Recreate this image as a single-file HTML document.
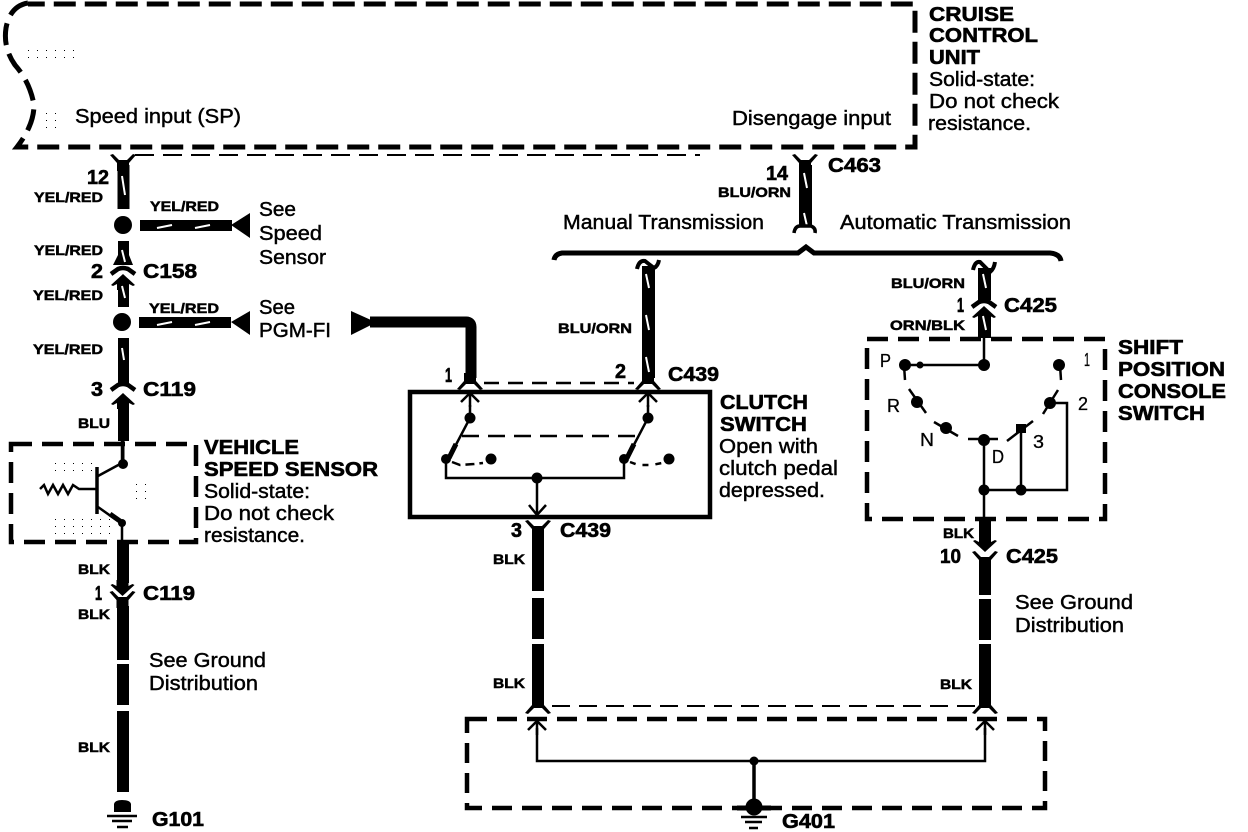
<!DOCTYPE html>
<html><head><meta charset="utf-8"><style>
html,body{margin:0;padding:0;background:#fff}
svg{display:block}
text{font-family:"Liberation Sans",sans-serif;fill:#000}
.r{font-size:20px;stroke:#000;stroke-width:.45}
.b{font-size:20px;font-weight:bold;stroke:#000;stroke-width:.6}
.s{font-size:14px;font-weight:bold;stroke:#000;stroke-width:.5}
.t{font-size:18px;stroke:#000;stroke-width:.3}
</style></head><body>
<svg width="1248" height="832" viewBox="0 0 1248 832" xmlns="http://www.w3.org/2000/svg">
<defs>
<path id="arch" d="M-12,6 L-5,1 Q0,-1 5,1 L12,6" fill="none" stroke="#000" stroke-width="4.500"/>
<path id="yf" d="M-12,-7 L-5,-1 Q0,1 5,-1 L12,-7" fill="none" stroke="#000" stroke-width="4.500"/>
<path id="au" d="M-12,7 L-10,8 L-6,6 L-6,12 L6,12 L6,6 L10,8 L12,7 L0,-4 Z" fill="#000"/>
<path id="ad" d="M-12,-7 L-10,-8 L-6,-6 L-6,-12 L6,-12 L6,-6 L10,-8 L12,-7 L0,4 Z" fill="#000"/>
<path id="sp" d="M-13,8 L-10,9 L-4,3 L4,3 L10,9 L13,8 L6,0 L6,-8 L-6,-8 L-6,0 Z" fill="#000"/>
<path id="ya" d="M-13,-8 L-10,-9 L-4,-3 L4,-3 L10,-9 L13,-8 L6,0 L6,8 L-6,8 L-6,0 Z" fill="#000"/>
<path id="ar" d="M-9,9 L0,0 L9,9 M0,0 L0,14" fill="none" stroke="#000" stroke-width="2.500"/>
<pattern id="dots" width="9" height="7" patternUnits="userSpaceOnUse"><rect x="1" y="1" width="1" height="1" fill="#000"/></pattern>
</defs>

<!-- stipple -->
<rect x="48" y="462" width="50" height="10" fill="url(#dots)"/>
<rect x="50" y="518" width="60" height="20" fill="url(#dots)"/>
<rect x="128" y="480" width="22" height="25" fill="url(#dots)"/>
<rect x="25" y="48" width="50" height="12" fill="url(#dots)"/>
<rect x="44" y="110" width="14" height="24" fill="url(#dots)"/>

<!-- cruise box -->
<path d="M28,3 Q10,6 6,28 Q3,48 15,65 Q30,82 34,105 Q34,125 17,147 L915,147 L915,4 L28,4" fill="none" stroke="#000" stroke-width="5" stroke-dasharray="22 9"/>
<path d="M135,155 L700,155" fill="none" stroke="#000" stroke-width="2" stroke-dasharray="19 9"/>

<!-- left wire -->
<use href="#ya" x="123" y="163"/>
<rect x="117.500" y="165" width="12" height="44"/>
<path d="M122,176 L125,195" stroke="#fff" stroke-width="2"/>
<circle cx="123" cy="225" r="9"/>
<rect x="118" y="241" width="11" height="22"/>
<path d="M118,255 L113,265 L133,265 L129,255Z"/>
<path d="M122,250 L125,262" stroke="#fff" stroke-width="2"/>
<use href="#arch" x="123" y="268"/>
<use href="#au" x="123" y="278"/>
<rect x="118" y="285" width="11" height="22"/>
<path d="M122,286 L125,298" stroke="#fff" stroke-width="2"/>
<circle cx="122" cy="322" r="9"/>
<rect x="118" y="338" width="11" height="45"/>
<path d="M122,348 L124,360" stroke="#fff" stroke-width="2"/>
<use href="#arch" x="123" y="384"/>
<use href="#au" x="123" y="397"/>
<rect x="118" y="405" width="11" height="36"/>
<rect x="121.500" y="441" width="3" height="22"/>

<!-- branch wires -->
<rect x="140" y="220" width="92" height="11"/>
<path d="M157,228 L172,225 M195,228 L210,225" stroke="#fff" stroke-width="2"/>
<path d="M231,225 L250,213 L250,238Z"/>
<rect x="139" y="317" width="92" height="11"/>
<path d="M157,325 L172,322 M195,325 L210,322" stroke="#fff" stroke-width="2"/>
<path d="M231,322 L250,311 L250,335Z"/>
<path d="M351,311 L371,320 L371,325 L351,335Z"/>
<path d="M370,322 L466,322 Q471,322 471,327 L471,378" fill="none" stroke="#000" stroke-width="11"/>

<!-- vehicle speed sensor -->
<path d="M11,444 L196,444 L196,542 L11,542 Z" fill="none" stroke="#000" stroke-width="4.500" stroke-dasharray="21 10"/>
<path d="M97,467 L97,514" stroke="#000" stroke-width="3.500"/>
<path d="M98,476 L122,463 M122,441 L122,463 M98,507 L122,524 M122,524 L122,545" fill="none" stroke="#000" stroke-width="2.500"/>
<path d="M110,514 L120,521" stroke="#000" stroke-width="5"/>
<circle cx="123" cy="464" r="5"/><circle cx="122" cy="523" r="4"/>
<path d="M40,489 L44,485 L48,494 L53,485 L58,494 L63,485 L68,494 L73,485 L79,489 L96,489" fill="none" stroke="#000" stroke-width="2.500"/>
<rect x="117" y="543" width="12" height="40"/>
<use href="#ad" x="122.500" y="592"/>
<use href="#ya" x="122.500" y="600"/>
<rect x="117" y="606" width="12" height="54"/>
<rect x="117" y="664" width="12" height="41"/>
<rect x="117" y="711" width="12" height="81"/>
<path d="M114,812 L114,804 Q115,800 122,800 Q130,800 131,804 L131,812Z"/>
<path d="M107,816 L137,816 M112,821 L132,821 M117,827 L128,827" stroke="#000" stroke-width="2.500"/>

<!-- top right wire C463 + brace -->
<use href="#ya" x="805" y="163"/>
<rect x="799" y="165" width="13" height="62"/>
<path d="M804,173 L807,188 M804,213 L807,226" stroke="#fff" stroke-width="2"/>
<path d="M794,233 Q795,226 800,226 L811,226 Q816,228 815,233" fill="none" stroke="#000" stroke-width="3.500"/>
<path d="M554,260 Q555,254 562,253 L798,253 L806,247 L814,253 L1050,253 Q1060,254 1061,261" fill="none" stroke="#000" stroke-width="5"/>

<!-- manual wire -->
<path d="M637,269 Q639,260 645,261 Q650,265 654,268 Q658,266 659,260" fill="none" stroke="#000" stroke-width="4"/>
<rect x="642" y="266" width="13" height="112"/>
<path d="M646,274 L649,288 M646,315 L649,330 M646,357 L649,372" stroke="#fff" stroke-width="2"/>
<use href="#sp" x="648" y="381"/>
<use href="#sp" x="470" y="381"/>
<path d="M484,383 L634,383" stroke="#000" stroke-width="2.500" stroke-dasharray="15 9"/>

<!-- clutch switch -->
<rect x="410" y="392" width="300" height="125" fill="none" stroke="#000" stroke-width="4.500"/>
<use href="#ar" x="470" y="393"/><use href="#ar" x="648" y="393"/>
<path d="M470,405 L470,418 L449,458 M648,405 L648,418 L627,458" fill="none" stroke="#000" stroke-width="2.500"/>
<path d="M456,444 L449,458 M634,444 L627,458" stroke="#000" stroke-width="5"/>
<circle cx="470" cy="418" r="5.500"/><circle cx="648" cy="418" r="5.500"/>
<circle cx="446" cy="459" r="5"/><circle cx="624" cy="459" r="5"/>
<circle cx="491" cy="459" r="5.500"/><circle cx="669" cy="459" r="5.500"/>
<path d="M462,436 L636,436" stroke="#000" stroke-width="2.500" stroke-dasharray="17 9"/>
<path d="M452,462 L460,465 L474,464 L483,463" fill="none" stroke="#000" stroke-width="2.500" stroke-dasharray="9 5"/>
<path d="M630,462 L638,465 L652,465 L662,463" fill="none" stroke="#000" stroke-width="2.500" stroke-dasharray="6 7"/>
<path d="M446,459 L446,478 L624,478 L624,459" fill="none" stroke="#000" stroke-width="2.500"/>
<circle cx="537" cy="478" r="5.500"/>
<path d="M537,478 L537,514 M529,505 L537,515 L546,505" fill="none" stroke="#000" stroke-width="2.500"/>

<!-- BLK wire 1 -->
<use href="#ya" x="538" y="529"/>
<rect x="532" y="533" width="12" height="58"/>
<rect x="532" y="598" width="12" height="41"/>
<rect x="532" y="644" width="12" height="56"/>
<use href="#sp" x="538" y="705"/>
<!-- BLK wire 2 -->
<rect x="979" y="519" width="12" height="22"/>
<use href="#ad" x="985" y="548"/>
<use href="#ya" x="985" y="560"/>
<rect x="979" y="564" width="12" height="31"/>
<rect x="979" y="599" width="12" height="41"/>
<rect x="979" y="644" width="12" height="57"/>
<use href="#sp" x="985" y="705"/>
<path d="M552,706 L975,706" stroke="#000" stroke-width="2" stroke-dasharray="18 9"/>

<!-- G401 box -->
<path d="M467,719 L1045,719 L1045,808 L467,808 Z" fill="none" stroke="#000" stroke-width="4.500" stroke-dasharray="20 10"/>
<use href="#ar" x="537" y="721"/><use href="#ar" x="985" y="721"/>
<path d="M537,728 L537,761 L985,761 L985,728" fill="none" stroke="#000" stroke-width="2.500"/>
<circle cx="754" cy="761" r="4.500"/>
<path d="M754,761 L754,800" stroke="#000" stroke-width="3.500"/>
<circle cx="754" cy="807" r="8.500"/>
<path d="M737,808 L771,808" stroke="#000" stroke-width="5"/>
<path d="M741,817 L767,817 M745,822 L762,822 M749,828 L758,828" stroke="#000" stroke-width="2.500"/>

<!-- auto wire -->
<path d="M973,270 Q975,261 980,262 L990,272 Q994,269 995,262" fill="none" stroke="#000" stroke-width="4"/>
<rect x="978" y="268" width="13" height="32"/>
<path d="M983,274 L986,288" stroke="#fff" stroke-width="2"/>
<use href="#arch" x="984" y="301"/>
<use href="#au" x="984" y="310"/>
<rect x="978" y="316" width="13" height="22"/>
<path d="M983,316 L986,330" stroke="#fff" stroke-width="2"/>

<!-- shift box -->
<path d="M867,339 L1105,339 L1105,519 L867,519 Z" fill="none" stroke="#000" stroke-width="4.500" stroke-dasharray="21 10"/>
<path d="M984,338 L984,365 M905,365 L984,365 M904,365 L905,380 M1060,365 L1061,380" fill="none" stroke="#000" stroke-width="2.500"/>
<circle cx="984" cy="365" r="6"/><circle cx="905" cy="365" r="6"/><circle cx="920" cy="365" r="3.500"/><circle cx="1059" cy="365" r="6"/>
<path d="M909,389 L926,413 M934,422 L958,436 M968,439 L998,439 M1007,441 L1033,421 M1043,414 L1058,390" stroke="#000" stroke-width="2.500"/>
<circle cx="917" cy="402" r="6"/><circle cx="946" cy="428" r="6"/><circle cx="984" cy="440" r="6"/><circle cx="1050" cy="403" r="6"/>
<rect x="1016" y="424" width="10" height="9"/>
<path d="M1055,403 L1067,403 L1067,490 L984,490 M1021,430 L1021,490 M984,440 L984,520" fill="none" stroke="#000" stroke-width="2.500"/>
<circle cx="984" cy="490" r="5.500"/><circle cx="1021" cy="490" r="5.500"/>

<!-- text -->
<text class="r" x="75" y="123" textLength="166" lengthAdjust="spacingAndGlyphs">Speed input (SP)</text>
<text class="r" x="732" y="125" textLength="159" lengthAdjust="spacingAndGlyphs">Disengage input</text>
<text class="b" x="929" y="21" textLength="85" lengthAdjust="spacingAndGlyphs">CRUISE</text>
<text class="b" x="929" y="42" textLength="109" lengthAdjust="spacingAndGlyphs">CONTROL</text>
<text class="b" x="929" y="64" textLength="51" lengthAdjust="spacingAndGlyphs">UNIT</text>
<text class="r" x="929" y="86" textLength="106" lengthAdjust="spacingAndGlyphs">Solid-state:</text>
<text class="r" x="929" y="108" textLength="130" lengthAdjust="spacingAndGlyphs">Do not check</text>
<text class="r" x="928" y="130" textLength="103" lengthAdjust="spacingAndGlyphs">resistance.</text>

<text class="b" x="87" y="184" textLength="22" lengthAdjust="spacingAndGlyphs">12</text>
<text class="s" x="34" y="202" textLength="69" lengthAdjust="spacingAndGlyphs">YEL/RED</text>
<text class="s" x="150" y="211" textLength="69" lengthAdjust="spacingAndGlyphs">YEL/RED</text>
<text class="r" x="259" y="216" textLength="37" lengthAdjust="spacingAndGlyphs">See</text>
<text class="r" x="259" y="240" textLength="63" lengthAdjust="spacingAndGlyphs">Speed</text>
<text class="r" x="259" y="264" textLength="67" lengthAdjust="spacingAndGlyphs">Sensor</text>
<text class="s" x="34" y="255" textLength="69" lengthAdjust="spacingAndGlyphs">YEL/RED</text>
<text class="b" x="91" y="278" textLength="12" lengthAdjust="spacingAndGlyphs">2</text>
<text class="b" x="143" y="278" textLength="54" lengthAdjust="spacingAndGlyphs">C158</text>
<text class="s" x="33" y="300" textLength="70" lengthAdjust="spacingAndGlyphs">YEL/RED</text>
<text class="s" x="149" y="313" textLength="70" lengthAdjust="spacingAndGlyphs">YEL/RED</text>
<text class="r" x="259" y="314" textLength="36" lengthAdjust="spacingAndGlyphs">See</text>
<text class="r" x="259" y="337" textLength="72" lengthAdjust="spacingAndGlyphs">PGM-FI</text>
<text class="s" x="33" y="354" textLength="70" lengthAdjust="spacingAndGlyphs">YEL/RED</text>
<text class="b" x="91" y="396" textLength="12" lengthAdjust="spacingAndGlyphs">3</text>
<text class="b" x="143" y="396" textLength="53" lengthAdjust="spacingAndGlyphs">C119</text>
<text class="s" x="78" y="428" textLength="32" lengthAdjust="spacingAndGlyphs">BLU</text>
<text class="b" x="204" y="454" textLength="95" lengthAdjust="spacingAndGlyphs">VEHICLE</text>
<text class="b" x="204" y="476" textLength="174" lengthAdjust="spacingAndGlyphs">SPEED SENSOR</text>
<text class="r" x="204" y="498" textLength="106" lengthAdjust="spacingAndGlyphs">Solid-state:</text>
<text class="r" x="204" y="520" textLength="130" lengthAdjust="spacingAndGlyphs">Do not check</text>
<text class="r" x="204" y="542" textLength="101" lengthAdjust="spacingAndGlyphs">resistance.</text>
<text class="s" x="78" y="574" textLength="32" lengthAdjust="spacingAndGlyphs">BLK</text>
<text class="b" x="95" y="600" textLength="7" lengthAdjust="spacingAndGlyphs">1</text>
<text class="b" x="143" y="600" textLength="52" lengthAdjust="spacingAndGlyphs">C119</text>
<text class="s" x="78" y="619" textLength="32" lengthAdjust="spacingAndGlyphs">BLK</text>
<text class="r" x="149" y="667" textLength="117" lengthAdjust="spacingAndGlyphs">See Ground</text>
<text class="r" x="149" y="690" textLength="109" lengthAdjust="spacingAndGlyphs">Distribution</text>
<text class="s" x="78" y="752" textLength="32" lengthAdjust="spacingAndGlyphs">BLK</text>
<text class="b" x="152" y="826" textLength="52" lengthAdjust="spacingAndGlyphs">G101</text>

<text class="b" x="766" y="180" textLength="22" lengthAdjust="spacingAndGlyphs">14</text>
<text class="s" x="718" y="197" textLength="73" lengthAdjust="spacingAndGlyphs">BLU/ORN</text>
<text class="b" x="828" y="172" textLength="53" lengthAdjust="spacingAndGlyphs">C463</text>
<text class="r" x="563" y="229" textLength="201" lengthAdjust="spacingAndGlyphs">Manual Transmission</text>
<text class="r" x="840" y="229" textLength="231" lengthAdjust="spacingAndGlyphs">Automatic Transmission</text>
<text class="s" x="558" y="333" textLength="74" lengthAdjust="spacingAndGlyphs">BLU/ORN</text>
<text class="b" x="445" y="382" textLength="7" lengthAdjust="spacingAndGlyphs">1</text>
<text class="b" x="615" y="378" textLength="11" lengthAdjust="spacingAndGlyphs">2</text>
<text class="b" x="668" y="381" textLength="51" lengthAdjust="spacingAndGlyphs">C439</text>
<text class="b" x="720" y="409" textLength="88" lengthAdjust="spacingAndGlyphs">CLUTCH</text>
<text class="b" x="720" y="431" textLength="87" lengthAdjust="spacingAndGlyphs">SWITCH</text>
<text class="r" x="719" y="453" textLength="99" lengthAdjust="spacingAndGlyphs">Open with</text>
<text class="r" x="719" y="475" textLength="119" lengthAdjust="spacingAndGlyphs">clutch pedal</text>
<text class="r" x="719" y="497" textLength="106" lengthAdjust="spacingAndGlyphs">depressed.</text>
<text class="b" x="511" y="537" textLength="11" lengthAdjust="spacingAndGlyphs">3</text>
<text class="b" x="560" y="537" textLength="51" lengthAdjust="spacingAndGlyphs">C439</text>
<text class="s" x="493" y="564" textLength="32" lengthAdjust="spacingAndGlyphs">BLK</text>
<text class="s" x="493" y="688" textLength="32" lengthAdjust="spacingAndGlyphs">BLK</text>

<text class="s" x="891" y="288" textLength="74" lengthAdjust="spacingAndGlyphs">BLU/ORN</text>
<text class="b" x="957" y="312" textLength="7" lengthAdjust="spacingAndGlyphs">1</text>
<text class="b" x="1004" y="312" textLength="53" lengthAdjust="spacingAndGlyphs">C425</text>
<text class="s" x="890" y="330" textLength="75" lengthAdjust="spacingAndGlyphs">ORN/BLK</text>
<text class="b" x="1118" y="354" textLength="65" lengthAdjust="spacingAndGlyphs">SHIFT</text>
<text class="b" x="1118" y="376" textLength="107" lengthAdjust="spacingAndGlyphs">POSITION</text>
<text class="b" x="1118" y="398" textLength="108" lengthAdjust="spacingAndGlyphs">CONSOLE</text>
<text class="b" x="1118" y="420" textLength="87" lengthAdjust="spacingAndGlyphs">SWITCH</text>
<text class="t" x="880" y="367" textLength="11" lengthAdjust="spacingAndGlyphs">P</text>
<text class="t" x="1084" y="366" textLength="6" lengthAdjust="spacingAndGlyphs">1</text>
<text class="t" x="887" y="412" textLength="13" lengthAdjust="spacingAndGlyphs">R</text>
<text class="t" x="1078" y="410" textLength="10" lengthAdjust="spacingAndGlyphs">2</text>
<text class="t" x="920" y="446" textLength="14" lengthAdjust="spacingAndGlyphs">N</text>
<text class="t" x="1033" y="448" textLength="11" lengthAdjust="spacingAndGlyphs">3</text>
<text class="t" x="992" y="463" textLength="12" lengthAdjust="spacingAndGlyphs">D</text>
<text class="s" x="943" y="538" textLength="31" lengthAdjust="spacingAndGlyphs">BLK</text>
<text class="b" x="940" y="563" textLength="21" lengthAdjust="spacingAndGlyphs">10</text>
<text class="b" x="1006" y="563" textLength="52" lengthAdjust="spacingAndGlyphs">C425</text>
<text class="r" x="1015" y="609" textLength="118" lengthAdjust="spacingAndGlyphs">See Ground</text>
<text class="r" x="1015" y="632" textLength="109" lengthAdjust="spacingAndGlyphs">Distribution</text>
<text class="s" x="940" y="689" textLength="32" lengthAdjust="spacingAndGlyphs">BLK</text>
<text class="b" x="782" y="828" textLength="53" lengthAdjust="spacingAndGlyphs">G401</text>
</svg>
</body></html>
